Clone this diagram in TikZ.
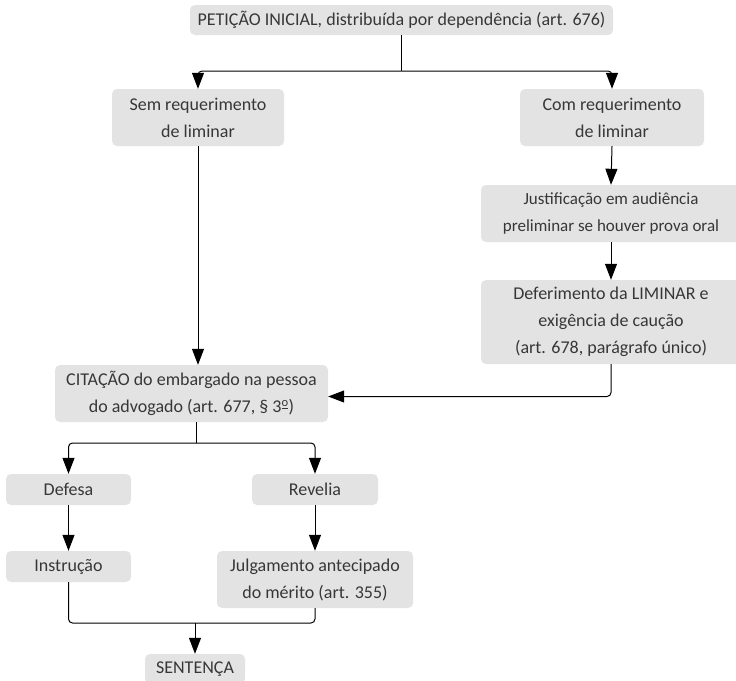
\documentclass[tikz,border=0pt]{standalone}
\usepackage{fontspec}
\setmainfont{Carlito}
\usepackage{xcolor}
\usetikzlibrary{arrows.meta}
\definecolor{boxgray}{RGB}{227,227,227}
\definecolor{txtgray}{RGB}{55,55,55}
\begin{document}
\begin{tikzpicture}[x=1pt,y=-1pt,
  box/.style={fill=boxgray, rounded corners=5pt, text=txtgray, align=center, inner sep=0pt,
    font=\fontsize{18}{27}\selectfont},
  arr/.style={line width=1pt, rounded corners=4pt, -{Triangle[length=16pt,width=12pt]}},
  ln/.style={line width=1pt, rounded corners=4pt}]
\useasboundingbox (0,0) rectangle (736,680);
\node[box, minimum width=423pt, minimum height=30pt] (pet) at (401.5,20) {PETIÇÃO INICIAL, distribuída por dependência (art. 676)};
\node[box, minimum width=172pt, minimum height=57pt] (sem) at (198,117.5) {Sem requerimento\\de liminar};
\node[box, minimum width=184pt, minimum height=57pt] (com) at (612,117.5) {Com requerimento\\de liminar};
\node[box, minimum width=260pt, minimum height=57pt, font=\fontsize{17}{27}\selectfont] (jus) at (611,213.5) {Justificação em audiência\\preliminar se houver prova oral};
\node[box, minimum width=260pt, minimum height=84pt] (def) at (611,322) {Deferimento da LIMINAR e\\exigência de caução\\(art. 678, parágrafo único)};
\node[box, minimum width=273pt, minimum height=57pt] (cit) at (191.5,393.5) {CITAÇÃO do embargado na pessoa\\do advogado (art. 677, \S\ 3\textsuperscript{\underline{o}})};
\node[box, minimum width=125pt, minimum height=31pt] (defesa) at (68.5,489.5) {Defesa};
\node[box, minimum width=126pt, minimum height=31pt] (revelia) at (315,489.5) {Revelia};
\node[box, minimum width=125pt, minimum height=31pt] (instr) at (68.5,566.5) {Instrução};
\node[box, minimum width=196pt, minimum height=57pt] (julg) at (315,579.5) {Julgamento antecipado\\do mérito (art. 355)};
\node[box, minimum width=100pt, minimum height=30pt] (sent) at (195,669) {SENTENÇA};
\coordinate (split1) at (401.5,71);
\coordinate (split2) at (196,443);
\coordinate (join) at (195,623);
\draw[ln] (pet.south) -- (split1);
\draw[arr] (split1) -| (sem.north);
\draw[arr] (split1) -| (com.north);
\draw[arr] (com.south) -- (jus.north);
\draw[arr] (jus.south) -- (def.north);
\draw[arr] (sem.south) -- (sem.south |- cit.north);
\draw[arr] (def.south) |- ([yshift=-3pt]cit.east);
\draw[ln] (cit.south -| split2) -- (split2);
\draw[arr] (split2) -| (defesa.north);
\draw[arr] (split2) -| (revelia.north);
\draw[arr] (defesa.south) -- (instr.north);
\draw[arr] (revelia.south) -- (julg.north);
\draw[ln] (instr.south) |- (join) -| (julg.south);
\draw[arr] (join) -- (sent.north);
\end{tikzpicture}
\end{document}
